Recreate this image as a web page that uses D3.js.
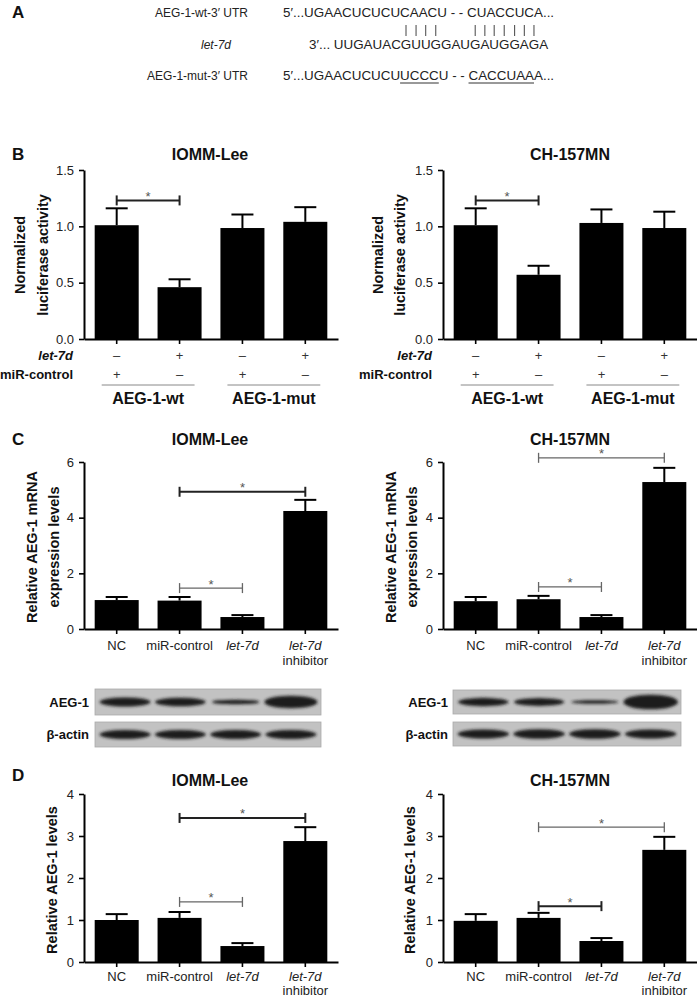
<!DOCTYPE html>
<html lang="en">
<head>
<meta charset="UTF-8">
<title>let-7d targets AEG-1</title>
<script src="https://d3js.org/d3.v7.min.js"></script>
<style>
  body { margin: 0; background: #fff; }
  svg { display: block; font-family: "Liberation Sans", Arial, sans-serif; }
</style>
</head>
<body>
<svg id="fig" width="697" height="999"></svg>
<script>
// --- panel A: binding site ---
const seqNames = ["AEG-1-wt-3′ UTR", "let-7d", "AEG-1-mut-3′ UTR"];
const seqWt = "5′...UGAACUCUCUCAACU - - CUACCUCA...";
const seqLet7d = "3′... UUGAUACGUUGGAUGAUGGAGA";
const seqMut = "5′...UGAACUCUCUUCCCU - - CACCUAAA...";
const pairedChars = [13, 14, 15, 16, 20, 21, 22, 23, 24, 25, 26]; // char index in seqLet7d
const mutatedRuns = [[15, 18], [25, 31]];                      // char ranges in seqMut

// --- panel B: luciferase ---
const lucGroups = ["wt-ctrl", "wt-let", "mut-ctrl", "mut-let"];
const let7dRow = ["–", "+", "–", "+"];
const miRControlRow = ["+", "–", "+", "–"];
const reporters = ["AEG-1-wt", "AEG-1-mut"];
const lucTicks = [0, 0.5, 1.0, 1.5];
const lucIOMM = [1.01, 0.46, 0.985, 1.04];
const lucIOMMErr = [0.15, 0.07, 0.12, 0.13];
const lucCH = [1.01, 0.57, 1.03, 0.985];
const lucCHErr = [0.15, 0.08, 0.12, 0.145];
const lucIOMMSig = [[0, 1, 1.23, "dark"]];
const lucCHSig = [[0, 1, 1.23, "dark"]];

// --- panels C and D ---
const treatments = ["NC", "miR-control", "let-7d", "let-7d inhibitor"];
const mrnaTicks = [0, 2, 4, 6];
const mrnaIOMM = [1.04, 1.02, 0.43, 4.24];
const mrnaIOMMErr = [0.11, 0.13, 0.07, 0.40];
const mrnaCH = [1.0, 1.07, 0.43, 5.28];
const mrnaCHErr = [0.15, 0.12, 0.07, 0.51];
const mrnaIOMMSig = [[1, 2, 1.47, "light"], [1, 3, 4.93, "dark"]];
const mrnaCHSig = [[1, 2, 1.51, "light"], [1, 3, 6.15, "light"]];

const protTicks = [0, 1, 2, 3, 4];
const protIOMM = [1.0, 1.05, 0.38, 2.88];
const protIOMMErr = [0.14, 0.14, 0.07, 0.33];
const protCH = [0.98, 1.05, 0.5, 2.67];
const protCHErr = [0.16, 0.12, 0.07, 0.31];
const protIOMMSig = [[1, 3, 3.43, "dark"], [1, 2, 1.43, "light"]];
const protCHSig = [[1, 3, 3.21, "light"], [1, 2, 1.33, "dark"]];

// western blot band strength (relative, per lane)
const blotAegIOMM = [1.0, 0.95, 0.5, 1.35];
const blotActinIOMM = [1.0, 1.0, 1.0, 1.0];
const blotAegCH = [0.9, 0.85, 0.4, 1.6];
const blotActinCH = [1.0, 1.05, 1.05, 1.0];

const svg = d3.select("#fig");
const ink = "#111";

// blur for blot bands
svg.append("defs").append("filter").attr("id", "blur")
    .attr("x", "-20%").attr("y", "-100%").attr("width", "140%").attr("height", "300%")
    .append("feGaussianBlur").attr("stdDeviation", 1.4);

function panelLetter(t, x, y) {
    svg.append("text").attr("x", x).attr("y", y)
        .attr("font-size", 17).attr("font-weight", "bold").attr("fill", ink).text(t);
}

// ---------- Panel A ----------
panelLetter("A", 12, 18);
const seqG = svg.append("g").attr("fill", "#222");
seqG.append("text").attr("x", 248).attr("y", 17).attr("text-anchor", "end")
    .attr("font-size", 12).text(seqNames[0]);
seqG.append("text").attr("x", 216).attr("y", 49).attr("text-anchor", "middle")
    .attr("font-size", 12).attr("font-style", "italic").text(seqNames[1]);
seqG.append("text").attr("x", 248).attr("y", 80).attr("text-anchor", "end")
    .attr("font-size", 12).text(seqNames[2]);

const seqFont = 13.4;
seqG.append("text").attr("x", 283).attr("y", 17).attr("font-size", seqFont).text(seqWt);
const letText = seqG.append("text").attr("x", 309).attr("y", 49).attr("font-size", seqFont).text(seqLet7d);
const mutText = seqG.append("text").attr("x", 283).attr("y", 80).attr("font-size", seqFont).text(seqMut);

pairedChars.forEach(i => {
    const r = letText.node().getExtentOfChar(i);
    const cx = r.x + r.width / 2;
    seqG.append("line").attr("x1", cx).attr("x2", cx).attr("y1", 25).attr("y2", 36)
        .attr("stroke", "#444").attr("stroke-width", 1);
});
mutatedRuns.forEach(([a, b]) => {
    const ra = mutText.node().getExtentOfChar(a);
    const rb = mutText.node().getExtentOfChar(b);
    seqG.append("line").attr("x1", ra.x).attr("x2", rb.x + rb.width)
        .attr("y1", 83).attr("y2", 83).attr("stroke", "#333").attr("stroke-width", 1);
});

// ---------- bar chart helper ----------
function barPanel(cfg) {
    const g = svg.append("g");
    const x = d3.scaleBand().domain(cfg.cats).range([cfg.x0, cfg.x1])
        .paddingInner(0.3).paddingOuter(0.17);
    const y = d3.scaleLinear().domain([0, d3.max(cfg.ticks)]).range([cfg.yBottom, cfg.yTop]);

    // title
    g.append("text").attr("x", cfg.titleX).attr("y", cfg.yTop - 10 - cfg.titleGap)
        .attr("text-anchor", "middle").attr("font-size", 16).attr("font-weight", "bold")
        .attr("fill", ink).text(cfg.title);

    // y label
    cfg.ylabel.forEach((line, i) => {
        g.append("text")
            .attr("transform", `translate(${cfg.ylabelX[i]},${cfg.ylabelY}) rotate(-90)`)
            .attr("text-anchor", "middle").attr("dy", "0.35em")
            .attr("font-size", 14.5).attr("font-weight", "bold").attr("fill", ink).text(line);
    });

    // bars
    g.selectAll("rect.bar").data(cfg.values).join("rect").attr("class", "bar")
        .attr("x", (d, i) => x(cfg.cats[i]))
        .attr("y", d => y(d))
        .attr("width", x.bandwidth())
        .attr("height", d => y(0) - y(d))
        .attr("fill", "#000");

    // error bars (upper only)
    const eg = g.append("g").attr("stroke", "#000").attr("stroke-width", 2);
    cfg.values.forEach((v, i) => {
        const cx = x(cfg.cats[i]) + x.bandwidth() / 2;
        const top = y(v + cfg.errors[i]);
        eg.append("line").attr("x1", cx).attr("x2", cx).attr("y1", y(v)).attr("y2", top);
        eg.append("line").attr("x1", cx - 11).attr("x2", cx + 11).attr("y1", top).attr("y2", top);
    });

    // axes
    const ya = g.append("g").attr("transform", `translate(${cfg.x0},0)`)
        .call(d3.axisLeft(y).tickValues(cfg.ticks).tickSize(5).tickSizeOuter(0)
            .tickPadding(5).tickFormat(cfg.fmt));
    const xa = g.append("g").attr("transform", `translate(0,${cfg.yBottom})`)
        .call(d3.axisBottom(x).tickSize(5).tickSizeOuter(0).tickFormat(""));
    [ya, xa].forEach(a => {
        a.select(".domain").attr("stroke", "#000").attr("stroke-width", 2);
        a.selectAll(".tick line").attr("stroke", "#000").attr("stroke-width", 1.6);
        a.selectAll(".tick text").attr("font-size", 13).attr("fill", "#222")
            .attr("font-family", "Liberation Sans, Arial, sans-serif");
    });

    // significance brackets
    cfg.sig.forEach(([a, b, v, tone]) => {
        const xa0 = x(cfg.cats[a]) + x.bandwidth() / 2;
        const xb0 = x(cfg.cats[b]) + x.bandwidth() / 2;
        const yy = y(v);
        const col = tone === "dark" ? "#222" : "#666";
        const w = tone === "dark" ? 2 : 1.3;
        const bg = g.append("g").attr("stroke", col).attr("stroke-width", w);
        bg.append("line").attr("x1", xa0).attr("x2", xb0).attr("y1", yy).attr("y2", yy);
        [xa0, xb0].forEach(px => bg.append("line").attr("x1", px).attr("x2", px)
            .attr("y1", yy - 5).attr("y2", yy + 5));
        g.append("text").attr("x", (xa0 + xb0) / 2).attr("y", yy + 0.5)
            .attr("text-anchor", "middle").attr("font-size", 13).attr("fill", "#555").text("*");
    });
    return { x, y, g };
}

// ---------- Panel B ----------
panelLetter("B", 12, 160);
const lucLabel = ["Normalized", "luciferase activity"];
function lucPanel(x0, x1, title, titleX, vals, errs, sig, labX, rowLabelX) {
    const p = barPanel({
        cats: lucGroups, x0, x1, yTop: 170, yBottom: 339, ticks: lucTicks, fmt: d3.format(".1f"),
        values: vals, errors: errs, sig, title, titleX, titleGap: 0,
        ylabel: lucLabel, ylabelX: labX, ylabelY: 255
    });
    const g = p.g, x = p.x;
    const cx = i => x(lucGroups[i]) + x.bandwidth() / 2;
    g.append("text").attr("x", rowLabelX).attr("y", 360).attr("text-anchor", "end")
        .attr("font-size", 13).attr("font-weight", "bold").attr("font-style", "italic")
        .attr("fill", ink).text("let-7d");
    g.append("text").attr("x", rowLabelX).attr("y", 379).attr("text-anchor", "end")
        .attr("font-size", 13).attr("font-weight", "bold").attr("fill", ink).text("miR-control");
    [let7dRow, miRControlRow].forEach((row, r) => {
        row.forEach((s, i) => g.append("text").attr("x", cx(i)).attr("y", 360 + r * 19)
            .attr("text-anchor", "middle").attr("font-size", 13).attr("fill", "#333").text(s));
    });
    reporters.forEach((name, k) => {
        const a = cx(2 * k) - 15, b = cx(2 * k + 1) + 15;
        g.append("line").attr("x1", a).attr("x2", b).attr("y1", 385).attr("y2", 385)
            .attr("stroke", "#888").attr("stroke-width", 1);
        g.append("text").attr("x", (a + b) / 2).attr("y", 404).attr("text-anchor", "middle")
            .attr("font-size", 16).attr("font-weight", "bold").attr("fill", ink).text(name);
    });
}
lucPanel(84, 338, "IOMM-Lee", 210, lucIOMM, lucIOMMErr, lucIOMMSig, [20, 43], 73);
lucPanel(443, 697, "CH-157MN", 570, lucCH, lucCHErr, lucCHSig, [378, 400], 432);

// ---------- Panel C / D helper for treatment labels ----------
function treatmentLabels(p, yBase, gap) {
    const x = p.x;
    treatments.forEach((t, i) => {
        const cx = x(t) + x.bandwidth() / 2;
        const txt = p.g.append("text").attr("x", cx).attr("y", yBase).attr("text-anchor", "middle")
            .attr("font-size", 13).attr("fill", "#222");
        if (t.startsWith("let-7d")) {
            txt.append("tspan").attr("font-style", "italic").text("let-7d");
            const rest = t.slice(6).trim();
            if (rest) p.g.append("text").attr("x", cx).attr("y", yBase + gap).attr("text-anchor", "middle")
                .attr("font-size", 13).attr("fill", "#222").text(rest);
        } else {
            txt.text(t);
        }
    });
}

function blot(x0, x1, label, yTop, yBot, strength, labelX) {
    const g = svg.append("g");
    g.append("rect").attr("x", x0).attr("y", yTop).attr("width", x1 - x0).attr("height", yBot - yTop)
        .attr("fill", "#c2c2c2").attr("stroke", "#aaa").attr("stroke-width", 0.8);
    const lanes = d3.scaleBand().domain(treatments).range([x0 + 3, x1 - 3]).paddingInner(0.02);
    const thick = d3.scaleLinear().domain([0, 1]).range([0, 4.6]);
    const cy = (yTop + yBot) / 2;
    g.selectAll("ellipse").data(strength).join("ellipse")
        .attr("cx", (d, i) => lanes(treatments[i]) + lanes.bandwidth() / 2)
        .attr("cy", cy)
        .attr("rx", d => lanes.bandwidth() / 2 * Math.min(1, 0.82 + d * 0.12))
        .attr("ry", d => thick(d))
        .attr("fill", "#1c1c1c")
        .attr("filter", "url(#blur)");
    svg.append("text").attr("x", labelX).attr("y", cy + 4.5).attr("text-anchor", "end")
        .attr("font-size", 13).attr("font-weight", "bold").attr("fill", ink).text(label);
}

// ---------- Panel C ----------
panelLetter("C", 12, 445);
const mrnaLabel = ["Relative AEG-1 mRNA", "expression levels"];
const cL = barPanel({
    cats: treatments, x0: 84, x1: 338, yTop: 462, yBottom: 629, ticks: mrnaTicks, fmt: d3.format("d"),
    values: mrnaIOMM, errors: mrnaIOMMErr, sig: mrnaIOMMSig, title: "IOMM-Lee", titleX: 210, titleGap: 7,
    ylabel: mrnaLabel, ylabelX: [32, 54], ylabelY: 547
});
treatmentLabels(cL, 650, 15);
const cR = barPanel({
    cats: treatments, x0: 443, x1: 697, yTop: 462, yBottom: 629, ticks: mrnaTicks, fmt: d3.format("d"),
    values: mrnaCH, errors: mrnaCHErr, sig: mrnaCHSig, title: "CH-157MN", titleX: 570, titleGap: 7,
    ylabel: mrnaLabel, ylabelX: [391, 412], ylabelY: 547
});
treatmentLabels(cR, 650, 15);

blot(95, 321, "AEG-1", 689, 715, blotAegIOMM, 89);
blot(95, 321, "β-actin", 722, 747, blotActinIOMM, 89);
blot(453, 681, "AEG-1", 690, 714, blotAegCH, 448);
blot(453, 681, "β-actin", 722, 746, blotActinCH, 448);

// ---------- Panel D ----------
panelLetter("D", 12, 781);
const protLabel = ["Relative AEG-1 levels"];
const dL = barPanel({
    cats: treatments, x0: 84, x1: 338, yTop: 794, yBottom: 962, ticks: protTicks, fmt: d3.format("d"),
    values: protIOMM, errors: protIOMMErr, sig: protIOMMSig, title: "IOMM-Lee", titleX: 210, titleGap: -2,
    ylabel: protLabel, ylabelX: [52], ylabelY: 880
});
treatmentLabels(dL, 981, 14);
const dR = barPanel({
    cats: treatments, x0: 443, x1: 697, yTop: 794, yBottom: 962, ticks: protTicks, fmt: d3.format("d"),
    values: protCH, errors: protCHErr, sig: protCHSig, title: "CH-157MN", titleX: 570, titleGap: -2,
    ylabel: protLabel, ylabelX: [410], ylabelY: 880
});
treatmentLabels(dR, 981, 14);
</script>
</body>
</html>
